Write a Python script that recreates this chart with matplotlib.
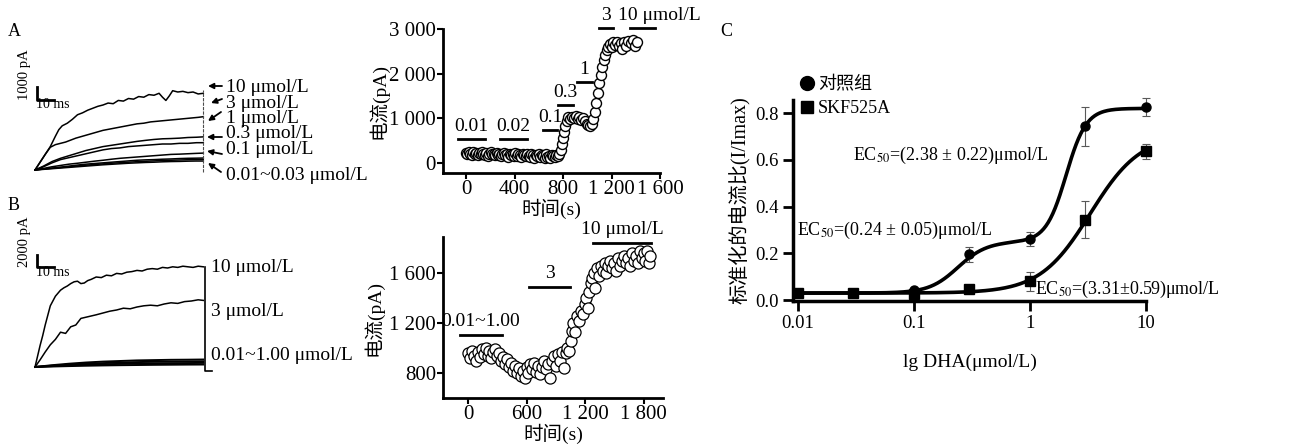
import numpy as np
import matplotlib
matplotlib.use('Agg')
import matplotlib.pyplot as plt
from matplotlib.lines import Line2D

plt.rcParams['font.family'] = ['Liberation Serif', 'Noto Sans CJK SC']
plt.rcParams['mathtext.fontset'] = 'stix'

W, H = 1307, 448

# ---------------- A: current traces (ms, pA)
tA_10 = [0, 3, 6, 9, 12, 14, 16, 19, 22, 25, 28, 31, 34, 37, 40, 43, 46, 49, 52, 55, 58,
         61, 64, 67, 70, 73, 75, 77, 79, 81, 84, 87, 90, 93, 96, 99]
iA_10 = [0, 600, 1200, 1800, 2600, 3100, 3400, 3600, 3900, 4250, 4400, 4600, 4750, 4900,
         5000, 5150, 5100, 5350, 5300, 5500, 5450, 5650, 5600, 5800, 5750, 5900, 5600, 5350,
         5700, 6100, 6000, 6050, 5950, 6000, 5850, 5900]
tA_3 = [0, 3, 6, 9, 12, 15, 18, 21, 24, 28, 32, 36, 40, 44, 48, 52, 56, 60, 64, 68, 72,
        76, 80, 84, 88, 92, 96, 99]
iA_3 = [0, 600, 1200, 1750, 1950, 2050, 2150, 2300, 2450, 2600, 2750, 2900, 3050, 3150,
        3250, 3350, 3450, 3550, 3600, 3700, 3750, 3800, 3850, 3900, 3950, 4000, 4050, 4100]
tA_grid = [0, 5, 10, 15, 20, 25, 30, 35, 40, 45, 50, 55, 60, 65, 70, 75, 80, 85, 90, 95, 99]
iA_1 = [0, 300, 650, 900, 1100, 1300, 1500, 1650, 1800, 1900, 2000, 2100, 2200, 2280,
        2350, 2400, 2420, 2450, 2500, 2520, 2550]
iA_03 = [0, 250, 550, 800, 950, 1100, 1250, 1400, 1550, 1650, 1700, 1800, 1850, 1900,
         1950, 2000, 2000, 2050, 2050, 2100, 2100]
iA_01 = [0, 120, 250, 350, 450, 520, 600, 680, 750, 830, 900, 950, 1000, 1050, 1100,
         1150, 1200, 1220, 1250, 1280, 1300]
iA_003 = [0, 80, 150, 220, 300, 380, 450, 500, 550, 600, 650, 700, 750, 780, 800, 830,
          850, 880, 900, 910, 920]
iA_002 = [0, 70, 130, 190, 250, 310, 370, 420, 470, 520, 560, 600, 640, 670, 700, 730,
          750, 770, 790, 800, 810]
iA_001 = [0, 50, 100, 150, 200, 250, 300, 350, 400, 440, 480, 520, 550, 580, 600, 630,
          650, 660, 680, 690, 690]
labA = ['10 μmol/L', '3 μmol/L', '1 μmol/L', '0.3 μmol/L', '0.1 μmol/L', '0.01~0.03 μmol/L']

# ---------------- B: current traces (ms, pA)
tB_10 = [0, 1.5, 3, 4.5, 6, 7.5, 9, 10.5, 12, 13.5, 15, 17, 19, 21, 23, 25, 27, 29, 31, 33,
         36, 39, 42, 45, 48, 51, 54, 57, 60, 63, 66, 69, 72, 75, 78, 81, 84, 87, 90, 93, 96, 99]
iB_10 = [0, 1800, 3600, 5200, 7000, 8600, 10200, 11000, 11800, 12300, 12800, 13200, 13500,
         13900, 14200, 14300, 13900, 14000, 14400, 14600, 15000, 14900, 15300, 15200, 15600,
         15500, 15800, 15900, 16100, 16000, 16300, 16400, 16300, 16600, 16500, 16700, 16600,
         16800, 16700, 16600, 16800, 16700]
tB_3 = [0, 3, 6, 9, 12, 15, 18, 21, 24, 27, 30, 33, 36, 40, 44, 48, 52, 56, 60, 64, 68, 72,
        76, 80, 84, 88, 92, 96, 99]
iB_3 = [0, 1200, 2500, 3700, 4600, 5800, 5600, 6700, 7000, 8100, 8300, 8500, 8700, 9000,
        9300, 9500, 9800, 9700, 10000, 10200, 10300, 10200, 10500, 10700, 10600, 10900,
        11000, 11200, 11100]
tB_grid = [0, 10, 20, 30, 40, 50, 60, 70, 80, 90, 99]
iB_low = [[0, 300, 550, 750, 900, 1000, 1100, 1150, 1200, 1220, 1250],
          [0, 220, 400, 550, 650, 750, 820, 870, 900, 930, 950],
          [0, 150, 280, 380, 450, 520, 570, 610, 640, 660, 680],
          [0, 80, 150, 210, 260, 300, 330, 360, 380, 400, 410]]
labB = ['10 μmol/L', '3 μmol/L', '0.01~1.00 μmol/L']

# ---------------- A: time course (s, pA)
tcA_t = list(range(0, 768, 12)) + [768, 780, 790, 800, 810, 820, 833, 845, 860, 875, 890,
        905, 920, 935, 950, 965, 980, 995, 1010, 1023, 1035, 1048, 1060, 1072, 1085, 1097,
        1110, 1122, 1135, 1148, 1160, 1172, 1185, 1200, 1215, 1230, 1245, 1260, 1275, 1290,
        1305, 1320, 1340, 1360, 1380, 1395, 1410]
tcA_i = [230, 190, 250, 210, 180, 240, 200, 220, 170, 230, 190, 250, 200, 180, 220, 160,
         210, 240, 190, 200, 170, 230, 180, 210, 150, 200, 220, 170, 190, 140, 210, 180,
         200, 160, 220, 150, 190, 170, 130, 200, 180, 150, 210, 160, 140, 190, 170, 120,
         180, 150, 200, 130, 170, 160, 110, 190, 140, 160, 120, 170, 150, 130, 180, 160] + \
        [200, 280, 420, 560, 700, 820, 950, 1020, 980, 1040, 1000, 1050, 990, 1030, 960,
         1000, 930, 880, 840, 820, 880, 980, 1150, 1350, 1560, 1780, 1980, 2150, 2300, 2420,
         2520, 2600, 2660, 2600, 2700, 2640, 2720, 2620, 2680, 2560, 2700, 2620, 2740, 2680,
         2760, 2620, 2700]
# application bars: (label, start, end, level)
barsA = [('0.01', -66, 157, 540), ('0.02', 280, 503, 540), ('0.1', 635, 750, 745),
         ('0.3', 760, 883, 1290), ('1', 915, 1040, 1805), ('3', 1097, 1213, 3025),
         ('10 μmol/L', 1353, 1560, 3025)]

# ---------------- B: time course (s, pA)
tcB_t = [0, 20, 40, 60, 80, 100, 120, 140, 160, 180, 200, 220, 240, 260, 280, 300, 320,
         340, 360, 380, 400, 420, 440, 460, 480, 500, 520, 540, 560, 580, 600, 620, 640,
         660, 680, 700, 720, 740, 760, 780, 800, 820, 840, 860, 880, 900, 920, 940, 960,
         980, 1000, 1020, 1040, 1060, 1070, 1080, 1100, 1120, 1140, 1160, 1180, 1200, 1215,
         1230, 1245, 1260, 1275, 1290, 1300, 1320, 1340, 1360, 1380, 1400, 1420, 1440, 1460,
         1480, 1500, 1520, 1540, 1560, 1580, 1600, 1620, 1640, 1660, 1680, 1700, 1720, 1740,
         1760, 1780, 1800, 1820, 1840, 1860, 1870]
tcB_i = [960, 920, 980, 940, 900, 970, 930, 990, 950, 1000, 940, 980, 920, 970, 990, 940,
         960, 900, 930, 870, 910, 850, 880, 820, 860, 800, 840, 780, 820, 760, 850, 800, 870,
         830, 880, 810, 860, 790, 850, 900, 830, 870, 760, 900, 940, 860, 950, 900, 970, 840,
         960, 1000, 980, 1060, 1140, 1200, 1130, 1260, 1220, 1300, 1270, 1350, 1400, 1320,
         1450, 1520, 1560, 1600, 1480, 1640, 1580, 1660, 1620, 1680, 1600, 1660, 1700, 1640,
         1680, 1620, 1720, 1660, 1700, 1740, 1680, 1720, 1660, 1760, 1700, 1740, 1680, 1780,
         1720, 1760, 1700, 1780, 1680, 1740]
barsB = [('0.01~1.00', -82, 350, 1104), ('3', 628, 1050, 1488), ('10 μmol/L', 1286, 1873, 1840)]

# ---------------- C: concentration-response
dha = [0.01, 0.03, 0.1, 0.3, 1, 3, 10]
ctrl = [0.031, 0.031, 0.042, 0.195, 0.26, 0.743, 0.826]
ctrl_err = [0, 0, 0.005, 0.032, 0.03, 0.083, 0.04]
skf = [0.031, 0.031, 0.028, 0.049, 0.08, 0.344, 0.637]
skf_err = [0, 0, 0, 0.006, 0.04, 0.078, 0.032]
# Hill fit parameters (bottom, amplitude, EC50, slope)
fit_ctrl = [(0.03, 0.22, 0.24, 3.5), (0.0, 0.57, 2.05, 5.0)]
fit_skf = [(0.03, 0.68, 3.31, 2.0)]
ec_text = ['EC$_{50}$=(2.38 ± 0.22)μmol/L', 'EC$_{50}$=(0.24 ± 0.05)μmol/L',
           'EC$_{50}$=(3.31±0.59)μmol/L']


def rect(x0, y0, x1, y1):
    return [x0 / W, 1 - y1 / H, (x1 - x0) / W, (y1 - y0) / H]


def fp(x, y):
    return (x / W, 1 - y / H)


def hill(x, pars):
    y = np.zeros_like(x)
    for b, a, ec, n in pars:
        y = y + b + a * x ** n / (x ** n + ec ** n)
    return y


fig = plt.figure(figsize=(W / 100, H / 100), dpi=100)

# ---- A traces
ax = fig.add_axes(rect(0, 0, 370, 195))
ax.set_xlim(-20.6, 197.1)
ax.set_ylim(-1923, 13077)
ax.axis('off')
ax.plot(tA_10, iA_10, 'k', lw=1.1)
ax.plot(tA_3, iA_3, 'k', lw=1.1)
for tr in [iA_1, iA_03, iA_01, iA_003, iA_002, iA_001]:
    ax.plot(tA_grid, tr, 'k', lw=1.1)
ax.plot([98.8, 98.8], [-150, 6150], color='0.3', lw=0.8, ls=(0, (3, 1)))
ax.plot([1.2, 1.2, 11.2], [6385, 5385, 5385], 'k', lw=2)
fig.text(*fp(25, 75), '1000 pA', rotation=90, fontsize=10.5, ha='center', va='center')
fig.text(*fp(53, 105), '10 ms', fontsize=10, ha='center', va='center')
fig.text(*fp(14, 31), 'A', fontsize=13, ha='center', va='center')
ylabA = [88, 103, 118, 133, 149, 175]
arrowsA = [((208, 86), (222, 86)), ((211, 103), (222, 99)), ((208, 121), (221, 112)),
           ((207, 137), (222, 137)), ((207, 151), (222, 154)), ((208, 163), (221, 172))]
for lab, y, (tip, tail) in zip(labA, ylabA, arrowsA):
    fig.text(*fp(226, y), lab, fontsize=14, ha='left', va='center')
    ax.annotate('', xy=fp(*tip), xytext=fp(*tail), xycoords='figure fraction',
                textcoords='figure fraction',
                arrowprops=dict(arrowstyle='-|>', color='k', lw=1.3, mutation_scale=8,
                                shrinkA=0, shrinkB=0))

# ---- B traces
ax = fig.add_axes(rect(0, 195, 370, 395))
ax.set_xlim(-20.6, 197.1)
ax.set_ylim(-4667, 28667)
ax.axis('off')
ax.plot(tB_10, iB_10, 'k', lw=1.1)
ax.plot(tB_3, iB_3, 'k', lw=1.1)
for tr in iB_low:
    ax.plot(tB_grid, tr, 'k', lw=1.4)
ax.plot([100, 100, 104], [16700, -667, -667], 'k', lw=1.2)
ax.plot([1.2, 1.2, 11.2], [18670, 16670, 16670], 'k', lw=2)
fig.text(*fp(25, 242), '2000 pA', rotation=90, fontsize=10.5, ha='center', va='center')
fig.text(*fp(53, 273), '10 ms', fontsize=10, ha='center', va='center')
fig.text(*fp(14, 205), 'B', fontsize=13, ha='center', va='center')
for lab, y in zip(labB, [267, 312, 356]):
    fig.text(*fp(211, y), lab, fontsize=14, ha='left', va='center')


def style_tc(ax):
    for s in ['top', 'right']:
        ax.spines[s].set_visible(False)
    for s in ['left', 'bottom']:
        ax.spines[s].set_linewidth(2)
    ax.tick_params(direction='out', length=4, width=1.5, labelsize=15, pad=1)


# ---- A time course
ax = fig.add_axes(rect(443, 29, 660, 173))
ax.plot(tcA_t, tcA_i, 'o', mfc='white', mec='black', ms=7.2, mew=1.0, clip_on=False)
ax.set_xlim(-190, 1600)
ax.set_ylim(-225, 3000)
ax.set_xticks([0, 400, 800, 1200, 1600], ['0', '400', '800', '1 200', '1 600'])
ax.set_yticks([0, 1000, 2000, 3000], ['0', '1 000', '2 000', '3 000'])
style_tc(ax)
for lab, t0, t1, lev in barsA:
    ax.plot([t0, t1], [lev, lev], 'k', lw=2, clip_on=False)
    if lab.startswith('10'):
        ax.text(1254, lev + 270, lab, fontsize=14, ha='left', va='center')
    else:
        ax.text((t0 + t1) / 2, lev + 280, lab, fontsize=14, ha='center', va='center')
ax.set_ylabel('电流(pA)', fontsize=14, labelpad=1)
ax.yaxis.set_label_coords(-0.25, 0.5)
ax.set_xlabel('时间(s)', fontsize=14, labelpad=0)

# ---- B time course
ax = fig.add_axes(rect(443, 237, 663, 398))
ax.plot(tcB_t, tcB_i, 'o', mfc='white', mec='black', ms=8, mew=0.9, clip_on=False)
ax.set_xlim(-257, 2000)
ax.set_ylim(600, 1888)
ax.set_xticks([0, 600, 1200, 1800], ['0', '600', '1 200', '1 800'])
ax.set_yticks([800, 1200, 1600], ['800', '1 200', '1 600'])
style_tc(ax)
for lab, t0, t1, lev in barsB:
    ax.plot([t0, t1], [lev, lev], 'k', lw=2, clip_on=False)
    ax.text((t0 + t1) / 2, lev + 110, lab, fontsize=14, ha='center', va='center')
ax.set_ylabel('电流(pA)', fontsize=14, labelpad=1)
ax.yaxis.set_label_coords(-0.27, 0.5)
ax.set_xlabel('时间(s)', fontsize=14, labelpad=0)

# ---- C
ax = fig.add_axes(rect(793, 100, 1146, 301))
xs = np.logspace(-2, 1, 300)
ax.plot(xs, hill(xs, fit_ctrl), 'k', lw=2.6)
ax.plot(xs, hill(xs, fit_skf), 'k', lw=2.6)
ax.errorbar(dha, ctrl, yerr=ctrl_err, fmt='none', ecolor='0.35', elinewidth=0.8, capsize=3,
            capthick=0.8, clip_on=False)
ax.errorbar(dha, skf, yerr=skf_err, fmt='none', ecolor='0.35', elinewidth=0.8, capsize=3,
            capthick=0.8, clip_on=False)
ax.plot(dha, ctrl, 'o', color='k', ms=6.5, clip_on=False, zorder=5)
ax.plot(dha, skf, 's', color='k', ms=6.5, clip_on=False, zorder=5)
ax.set_xscale('log')
ax.set_xlim(0.0091, 10)
ax.set_ylim(-0.004, 0.856)
ax.set_xticks([0.01, 0.1, 1, 10], ['0.01', '0.1', '1', '10'])
ax.minorticks_off()
ax.set_yticks([0, 0.2, 0.4, 0.6, 0.8], ['0.0', '0.2', '0.4', '0.6', '0.8'])
for s in ['top', 'right']:
    ax.spines[s].set_visible(False)
for s in ['left', 'bottom']:
    ax.spines[s].set_linewidth(2.5)
ax.tick_params(direction='out', length=7, width=2, labelsize=13.5, pad=3)
ax.set_xlabel('lg DHA(μmol/L)', fontsize=14, labelpad=16)
ax.set_ylabel('标准化的电流比(I/Imax)', fontsize=14.5, labelpad=4)
ax.text(0.030, 0.618, ec_text[0], fontsize=13, ha='left', va='center')
ax.text(0.0099, 0.30, ec_text[1], fontsize=13, ha='left', va='center')
ax.text(1.11, 0.045, ec_text[2], fontsize=13, ha='left', va='center')
handles = [Line2D([], [], marker='o', ls='', color='k', ms=10, label='对照组'),
           Line2D([], [], marker='s', ls='', color='k', ms=9, label='SKF525A')]
ax.legend(handles=handles, loc='upper left', bbox_to_anchor=fp(800, 76),
          bbox_transform=fig.transFigure, frameon=False, fontsize=13, handlelength=0.8,
          handletextpad=0.2, labelspacing=0.4, borderpad=0, borderaxespad=0)
fig.text(*fp(726, 31), 'C', fontsize=13, ha='center', va='center')

fig.savefig('out.png', dpi=100)
